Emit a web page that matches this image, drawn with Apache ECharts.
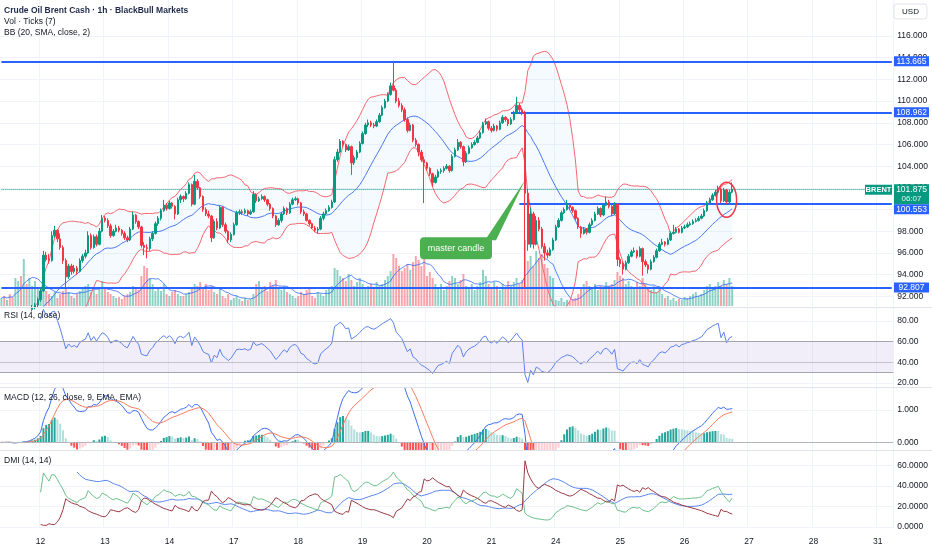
<!DOCTYPE html>
<html><head><meta charset="utf-8">
<script src="https://cdn.jsdelivr.net/npm/echarts@6/dist/echarts.min.js"></script>
<style>html,body{margin:0;padding:0;background:#fff}#c{width:932px;height:550px}</style>
</head><body><div id="c"></div>
<script>
// ---------- data ----------
const dayLabels = ['12','13','14','17','18','19','20','21','24','25','26','27','28','31'];
const firstDayIndex = 14, barsPerDay = 23, slotCount = 319;
// hourly candles: [open, high, low, close]
const candles = [
[90.3,90.6,90.1,90.4],[90.4,90.5,90.1,90.3],[90.3,90.7,90.2,90.5],[90.5,90.6,90.2,90.4],[90.4,90.5,90.0,90.2],
[90.2,90.5,90.1,90.3],[90.3,90.7,90.2,90.5],[90.5,90.6,90.2,90.4],[90.4,90.8,90.3,90.6],[90.6,90.7,90.3,90.5],
[90.5,91.0,90.4,90.8],[90.8,91.2,90.6,91.0],[91.0,91.4,90.8,91.2],[91.2,91.9,91.0,91.7],[91.7,92.8,91.5,92.5],
[92.5,96.2,92.4,95.8],[95.8,96.1,95.2,95.4],[95.4,95.9,95.0,95.3],[95.3,98.0,95.2,97.6],[97.6,98.5,97.4,98.1],
[98.1,98.2,97.0,97.3],[97.3,97.8,96.3,96.5],[96.5,96.7,95.0,95.3],[95.3,95.5,92.8,93.8],[93.8,95.0,93.6,94.8],
[94.8,95.0,94.0,94.3],[94.3,94.9,94.1,94.6],[94.6,94.8,94.0,94.3],[94.3,95.5,94.2,95.3],[95.3,95.9,95.1,95.7],
[95.7,96.3,95.5,96.0],[96.0,98.0,95.9,97.6],[97.6,97.8,96.3,96.5],[96.5,97.7,96.4,97.5],[97.5,97.7,96.6,96.8],
[96.8,98.3,96.7,98.0],[98.0,99.5,97.9,99.2],[99.2,99.4,98.8,99.0],[99.0,99.2,98.3,98.5],[98.5,98.7,97.4,97.6],
[97.6,98.2,97.5,98.0],[98.0,98.6,97.9,98.3],[98.3,98.5,97.9,98.1],[98.1,98.2,97.6,97.8],[97.8,98.0,97.2,97.4],
[97.4,97.6,97.0,97.2],[97.2,98.4,97.1,98.2],[98.2,99.8,98.1,99.5],[99.5,99.6,98.7,98.9],[98.9,99.0,98.2,98.4],
[98.4,98.5,96.5,96.7],[96.7,97.0,95.8,96.5],[96.5,96.8,95.5,96.4],[96.4,97.5,96.2,97.3],[97.3,98.0,97.1,97.8],
[97.8,98.9,97.7,98.7],[98.7,99.4,98.5,99.2],[99.2,100.1,99.0,99.9],[99.9,100.9,99.8,100.4],[100.4,100.6,99.9,100.1],
[100.1,100.8,100.0,100.6],[100.6,100.7,100.1,100.3],[100.3,100.4,99.1,99.6],[99.6,101.1,99.5,100.9],[100.9,101.4,100.6,101.2],
[101.2,101.3,100.7,101.0],[101.0,101.7,100.9,101.5],[101.5,102.5,101.4,102.3],[102.3,102.4,100.3,100.5],[100.5,103.2,100.4,102.6],
[102.6,102.8,101.8,102.0],[102.0,102.1,101.0,101.2],[101.2,101.3,99.8,100.0],[100.0,100.2,99.4,99.6],[99.6,99.9,99.2,99.4],
[99.4,99.5,97.0,97.4],[97.4,99.1,97.3,98.9],[98.9,99.2,98.1,98.3],[98.3,100.4,98.2,100.2],[100.2,100.3,98.4,98.6],
[98.6,98.8,97.8,98.0],[98.0,98.1,96.9,97.2],[97.2,97.9,97.0,97.7],[97.7,98.8,97.6,98.6],[98.6,99.9,98.5,99.7],
[99.7,100.0,99.5,99.8],[99.8,100.0,99.5,99.7],[99.7,100.1,99.6,99.9],[99.9,100.0,99.4,99.6],[99.6,100.0,99.5,99.8],
[99.8,101.7,99.7,101.4],[101.4,101.5,100.6,100.8],[100.8,101.2,100.7,101.0],[101.0,101.4,100.9,101.2],[101.2,101.3,100.7,100.9],
[100.9,101.0,100.3,100.5],[100.5,100.6,99.9,100.1],[100.1,100.2,99.2,99.4],[99.4,99.5,98.4,98.6],[98.6,99.2,98.5,99.0],
[99.0,99.8,98.8,99.6],[99.6,100.3,99.5,100.1],[100.1,100.2,99.5,99.7],[99.7,100.7,99.6,100.5],[100.5,101.1,100.4,100.9],
[100.9,101.2,100.8,101.0],[101.0,101.1,100.4,100.6],[100.6,100.7,99.6,99.8],[99.8,100.0,99.4,99.6],[99.6,99.7,98.9,99.0],
[99.0,99.1,98.5,98.7],[98.7,98.8,98.2,98.3],[98.3,98.5,97.9,98.1],[98.1,98.4,97.8,98.2],[98.2,99.4,98.1,99.2],
[99.2,99.8,99.0,99.6],[99.6,100.1,99.5,99.9],[99.9,100.4,99.8,100.2],[100.2,100.9,100.1,100.7],[100.7,104.9,100.6,104.6],
[104.6,105.6,104.4,105.3],[105.3,106.5,105.2,106.3],[106.3,106.4,105.8,106.0],[106.0,106.1,105.3,105.5],[105.5,106.0,105.4,105.8],
[105.8,105.9,103.2,104.3],[104.3,105.0,104.1,104.8],[104.8,105.5,104.6,105.3],[105.3,106.3,105.2,106.1],[106.1,107.2,106.0,107.0],
[107.0,108.0,106.9,107.8],[107.8,108.3,107.6,108.0],[108.0,108.2,107.6,107.8],[107.8,108.0,107.5,107.7],[107.7,108.3,107.6,108.1],
[108.1,108.9,108.0,108.7],[108.7,109.6,108.6,109.4],[109.4,110.2,109.3,110.0],[110.0,110.8,109.9,110.6],[110.6,111.7,110.5,111.4],
[111.4,113.7,110.9,111.0],[111.0,111.2,109.8,110.0],[110.0,110.3,109.4,109.6],[109.6,109.8,109.0,109.2],[109.2,109.4,108.1,108.3],
[108.3,108.5,107.1,107.3],[107.3,108.0,107.2,107.8],[107.8,107.9,106.2,106.4],[106.4,106.6,105.8,106.0],[106.0,106.1,104.9,105.3],
[105.3,105.5,104.4,104.6],[104.6,104.9,100.6,104.3],[104.3,104.4,103.6,103.8],[103.8,103.9,103.1,103.3],[103.3,103.4,102.1,102.5],
[102.5,103.2,102.4,103.0],[103.0,103.7,102.9,103.5],[103.5,103.8,103.3,103.6],[103.6,104.0,103.4,103.8],[103.8,104.2,103.7,104.0],
[104.0,104.1,103.4,103.6],[103.6,105.1,103.5,104.9],[104.9,105.7,104.8,105.5],[105.5,106.5,105.4,106.2],[106.2,106.3,105.6,105.8],
[105.8,105.9,104.0,104.4],[104.4,105.4,104.3,105.2],[105.2,105.9,105.1,105.7],[105.7,106.2,105.6,106.0],[106.0,106.4,105.9,106.2],
[106.2,106.8,106.1,106.6],[106.6,107.3,106.5,107.1],[107.1,108.1,107.0,107.9],[107.9,108.4,107.8,108.1],[108.1,108.2,107.3,107.5],
[107.5,107.7,107.1,107.3],[107.3,107.9,107.2,107.7],[107.7,107.8,107.2,107.4],[107.4,108.2,107.3,108.0],[108.0,108.7,107.9,108.5],
[108.5,108.6,108.1,108.3],[108.3,108.4,107.7,107.9],[107.9,108.5,107.8,108.3],[108.3,109.1,108.2,108.9],[108.9,110.4,108.8,109.6],
[109.6,109.8,109.0,109.2],[109.2,109.4,108.7,108.9],[108.9,109.1,92.8,101.5],[101.5,101.9,96.2,96.8],[96.8,100.2,96.5,99.6],
[99.6,99.8,96.4,96.8],[96.8,99.4,96.7,99.0],[99.0,99.3,98.0,98.2],[98.2,98.4,96.4,96.6],[96.6,96.9,95.3,96.0],
[96.0,96.3,95.5,95.8],[95.8,96.5,95.7,96.3],[96.3,97.4,96.2,97.2],[97.2,98.6,97.1,98.4],[98.4,99.2,98.3,99.0],
[99.0,99.9,98.9,99.7],[99.7,100.2,99.6,100.0],[100.0,100.9,99.9,100.4],[100.4,100.6,100.0,100.2],[100.2,100.3,99.7,99.9],
[99.9,100.0,99.0,99.2],[99.2,99.3,98.2,98.4],[98.4,98.5,97.4,97.8],[97.8,98.4,97.7,98.2],[98.2,98.3,97.7,97.9],
[97.9,98.8,97.8,98.6],[98.6,99.2,98.5,99.0],[99.0,99.8,98.9,99.6],[99.6,100.3,99.5,100.1],[100.1,100.2,99.3,99.5],
[99.5,100.6,99.4,100.4],[100.4,101.2,100.3,100.7],[100.7,100.9,100.1,100.3],[100.3,100.4,99.4,99.6],[99.6,100.7,99.5,100.5],
[100.5,100.6,94.8,95.4],[95.4,95.6,94.7,95.0],[95.0,95.2,94.0,94.5],[94.5,95.3,94.4,95.1],[95.1,95.9,95.0,95.7],
[95.7,96.3,95.6,96.1],[96.1,96.5,96.0,96.2],[96.2,96.3,95.5,95.7],[95.7,96.6,95.6,96.4],[96.4,96.5,93.9,95.2],
[95.2,95.4,94.7,94.9],[94.9,95.0,94.1,94.5],[94.5,95.4,94.4,95.2],[95.2,95.8,95.1,95.6],[95.6,96.4,95.5,96.2],
[96.2,97.0,96.1,96.8],[96.8,97.3,96.7,97.0],[97.0,97.1,96.6,96.8],[96.8,97.4,96.7,97.2],[97.2,98.0,97.1,97.8],
[97.8,98.6,97.7,97.9],[97.9,98.4,97.8,98.2],[98.2,98.3,97.8,97.9],[97.9,98.5,97.8,98.3],[98.3,98.6,98.2,98.4],
[98.4,98.8,98.3,98.6],[98.6,98.9,98.5,98.7],[98.7,99.1,98.6,98.9],[98.9,99.2,98.8,99.0],[99.0,99.4,98.9,99.2],
[99.2,99.6,99.1,99.4],[99.4,100.1,99.3,99.9],[99.9,100.8,99.8,100.6],[100.6,101.1,100.5,100.9],[100.9,101.5,100.8,101.3],
[101.3,101.8,101.2,101.6],[101.6,102.2,101.5,101.9],[101.9,102.0,100.6,100.8],[100.8,102.0,100.7,101.8],[101.8,101.9,100.5,100.7],
[100.7,101.8,100.6,101.6],[101.6,102.5,101.5,101.875]
];
const volumes = [
8,10,6,12,9, 28,25,30,47,22, 28,20,25,18,12,
22,15,12,10,14,8,12,15,18,14,
10,8,12,15,18,20,22,14,16,12,18,
25,18,14,12,10,8,9,7,10,12,
14,20,18,16,30,40,38,28,22,15,
18,15,22,12,10,14,16,12,10,
10,12,14,18,22,20,24,18,22,16,20,
14,12,18,10,8,12,6,8,10,7,5,8,6,7,12,
22,25,18,20,15,24,20,26,18,16,20,14,12,10,8,
10,14,12,16,18,10,8,14,12,10,16,18,20,
38,36,30,28,25,32,26,20,24,28,22,18,
20,22,18,24,20,22,26,30,35,52,
48,40,35,38,42,36,44,50,46,40,48,30,34,28,22,
18,22,16,20,25,30,28,22,26,32,20,18,22,16,20,
24,36,30,22,18,24,20,16,22,18,25,20,24,28,22,26,
66,
45,50,40,55,48,52,42,38,30,28,
6,5,8,4,6,5,7,8,12,18,22,25,20,18,22,16,20,18,
24,20,22,26,34,30,28,
22,25,20,18,24,20,28,22,18,16,20,14,18,
12,8,10,6,8,5,7,6,9,8,10,12,14,10,12,
16,20,22,18,20,24,20,26,22,28,20
];
const levelValues = [113.665, 108.962, 100.553, 92.807];
const levelStartIndex = [0, 182, 185, 0];
const lastPrice = 101.875;
const lastPriceTimer = '06:07';
const symbolName = 'BRENT';
const priceTicks = [92,94,96,98,100,102,104,106,108,110,112,114,116];
const rsiTicks = [20,40,60,80];
const macdTicks = [0,1];
const dmiTicks = [0,20,40,60];
const annotation = {index:187, price:102.7, text:'master candle'};
const circleMark = {index:259, price:100.9};

// ---------- indicators ----------
const N = candles.length;
const closes = candles.map(c=>c[3]);
const highs = candles.map(c=>c[1]);
const lows = candles.map(c=>c[2]);
const labelAt = [];
for (let i=0;i<slotCount;i++){
  const k=(i-firstDayIndex)/barsPerDay;
  labelAt.push(i>=firstDayIndex && Number.isInteger(k) && k<dayLabels.length ? dayLabels[k] : '');
}
const cats = labelAt.map((_,i)=>String(i));
const isDay = (idx)=>labelAt[idx]!=='';

const bbMid=[],bbUp=[],bbLo=[],bbWidth=[];
for(let i=0;i<N;i++){
  const w=closes.slice(Math.max(0,i-19),i+1);
  const m=w.reduce((a,b)=>a+b,0)/w.length;
  const sd=Math.sqrt(w.reduce((a,b)=>a+(b-m)*(b-m),0)/w.length);
  bbMid.push(m);bbUp.push(m+2*sd);bbLo.push(m-2*sd);bbWidth.push(4*sd);
}
function rma(arr,p){const out=new Array(arr.length).fill(null);let s=0,c=0,prev=null;
  for(let i=0;i<arr.length;i++){const x=arr[i];if(x==null)continue;
    if(prev===null){s+=x;c++;if(c===p){prev=s/p;out[i]=prev;}}
    else{prev=(prev*(p-1)+x)/p;out[i]=prev;}}
  return out;}
function ema(arr,p){const k=2/(p+1);const out=[];let e=arr[0];
  for(let i=0;i<arr.length;i++){e=i===0?arr[0]:arr[i]*k+e*(1-k);out.push(e);}return out;}
const gains=[null],losses=[null];
for(let i=1;i<N;i++){const d=closes[i]-closes[i-1];gains.push(Math.max(d,0));losses.push(Math.max(-d,0));}
const ag=rma(gains,14),al=rma(losses,14);
const rsi=ag.map((g,i)=>g==null?null:(al[i]===0?100:100-100/(1+g/al[i])));
const e12=ema(closes,12),e26=ema(closes,26);
const macd=e12.map((v,i)=>v-e26[i]);
const signal=ema(macd,9);
const hist=macd.map((v,i)=>v-signal[i]);
const trA=[null],pdmA=[null],mdmA=[null];
for(let i=1;i<N;i++){
  const up=highs[i]-highs[i-1],dn=lows[i-1]-lows[i];
  pdmA.push(up>dn&&up>0?up:0);mdmA.push(dn>up&&dn>0?dn:0);
  trA.push(Math.max(highs[i]-lows[i],Math.abs(highs[i]-closes[i-1]),Math.abs(lows[i]-closes[i-1])));
}
const rTR=rma(trA,14),rP=rma(pdmA,14),rM=rma(mdmA,14);
const pdi=rTR.map((t,i)=>t==null?null:100*rP[i]/t);
const mdi=rTR.map((t,i)=>t==null?null:100*rM[i]/t);
const dx=pdi.map((p,i)=>p==null?null:(p+mdi[i]===0?0:100*Math.abs(p-mdi[i])/(p+mdi[i])));
const adx=rma(dx,14);
const volMA=volumes.map((v,i)=>{const w=volumes.slice(Math.max(0,i-6),i+1);return w.reduce((a,b)=>a+b,0)/w.length;});

// ---------- chart ----------
const UP='#089981',DN='#F23645';
const RIGHT=932-893.2;
const FONT='Liberation Sans, Arial, sans-serif';
const chart=echarts.init(document.getElementById('c'),null,{renderer:'canvas'});
const grids=[
  {left:0,right:RIGHT,top:0,height:306},
  {left:0,right:RIGHT,top:200,height:106},
  {left:0,right:RIGHT,top:308,height:79},
  {left:0,right:RIGHT,top:388,height:62},
  {left:0,right:RIGHT,top:451,height:77}
];
const xAxes=grids.map((g,gi)=>({
  type:'category',gridIndex:gi,data:cats,boundaryGap:true,
  axisLine:{show:false},axisTick:{show:false},
  axisLabel:{show:gi===4,interval:(idx)=>isDay(idx),formatter:(v,idx)=>labelAt[idx],color:'#131722',fontSize:8.5,margin:9,fontFamily:FONT},
  splitLine:{show:gi!==1,interval:(idx)=>isDay(idx),lineStyle:{color:'#F0F3FA',width:1}}
}));
function yAx(gi,min,max,ticks,dec){
  return {type:'value',gridIndex:gi,position:'right',min:min,max:max,
    axisLine:{show:false},axisTick:{show:false,customValues:ticks},
    axisLabel:{customValues:ticks,formatter:v=>Number(v).toFixed(dec),color:'#131722',fontSize:8.5,margin:4,fontFamily:FONT},
    splitLine:{show:true,lineStyle:{color:'#F0F3FA',width:1}}};
}
const yAxes=[
  yAx(0,91.11,119.32,priceTicks,3),
  {type:'value',gridIndex:1,min:0,max:106,show:false},
  yAx(2,16.13,92.58,rsiTicks,2),
  yAx(3,-0.238,1.681,macdTicks,3),
  yAx(4,-0.97,73.9,dmiTicks,4)
];
const candleData=candles.map(c=>[c[0],c[3],c[2],c[1]]);
const volData=volumes.map((v,i)=>({value:v,itemStyle:{color:candles[i][3]>=candles[i][0]?'rgba(8,153,129,0.45)':'rgba(242,54,69,0.45)'}}));
const histData=hist.map((h,i)=>{const p=i>0?hist[i-1]:h;let col;
  if(h>=0) col=h>p?'#26A69A':'#B2DFDB'; else col=h<p?'#FF5252':'#FFCDD2';
  return {value:h,itemStyle:{color:col}};});
const levelMarks=levelValues.map((v,k)=>[{coord:[levelStartIndex[k],v]},{coord:[slotCount-1,v]}]);
const line=(name,data,xi,yi,color,width,extra)=>Object.assign({type:'line',name,data,xAxisIndex:xi,yAxisIndex:yi,showSymbol:false,symbol:'none',
  lineStyle:{color,width:width},itemStyle:{color},silent:true,connectNulls:false,z:3},extra||{});

const series=[
  {type:'bar',name:'vol',data:volData,xAxisIndex:1,yAxisIndex:1,barWidth:2,silent:true,z:1},
  line('volMA',volMA,1,1,'rgba(41,98,255,0.75)',1,{z:2}),
  line('bbBase',bbLo,0,0,'rgba(0,0,0,0)',0,{stack:'bb',lineStyle:{opacity:0,width:0},z:1}),
  line('bbFill',bbWidth,0,0,'rgba(0,0,0,0)',0,{stack:'bb',lineStyle:{opacity:0,width:0},areaStyle:{color:'rgba(33,150,243,0.06)'},z:1}),
  line('bbUp',bbUp,0,0,'#F5676F',1),
  line('bbLo',bbLo,0,0,'#F5676F',1),
  line('bbMid',bbMid,0,0,'#4C78F0',1),
  {type:'candlestick',name:'BRENT',data:candleData,xAxisIndex:0,yAxisIndex:0,barWidth:2,silent:true,z:5,
    itemStyle:{color:UP,color0:DN,borderColor:UP,borderColor0:DN,borderWidth:1},
    markLine:{silent:true,symbol:['none','none'],label:{show:false},
      lineStyle:{color:'#2962FF',width:2,type:'solid'},
      data:levelMarks.concat([[{coord:[0,lastPrice],lineStyle:{color:UP,width:1,type:'dotted'}},{coord:[slotCount-1,lastPrice]}]])}},
  line('rsi',rsi,2,2,'#5A82F0',1,{
    markArea:{silent:true,itemStyle:{color:'rgba(126,87,194,0.10)'},data:[[{yAxis:30},{yAxis:60}]]},
    markLine:{silent:true,symbol:['none','none'],label:{show:false},lineStyle:{color:'#A3A6AF',width:1,type:'solid'},
      data:[{yAxis:60},{yAxis:40,lineStyle:{color:'#C3C5CC'}},{yAxis:30}]}}),
  {type:'bar',name:'hist',data:histData,xAxisIndex:3,yAxisIndex:3,barWidth:2,silent:true,z:2,
    markLine:{silent:true,symbol:['none','none'],label:{show:false},lineStyle:{color:'#B2B5BE',width:1,type:'solid'},data:[{yAxis:0}]}},
  line('macd',macd,3,3,'#3E6EF2',1),
  line('signal',signal,3,3,'#F77C5A',1),
  line('adx',adx,4,4,'#5B86F0',1),
  line('pdi',pdi,4,4,'#6CC08B',1),
  line('mdi',mdi,4,4,'#9B3B44',1)
];
chart.setOption({animation:false,backgroundColor:'#ffffff',textStyle:{fontFamily:FONT},
  grid:grids,xAxis:xAxes,yAxis:yAxes,series:series});

// ---------- overlays (text, tags, annotations) ----------
const P=(i,v)=>chart.convertToPixel({xAxisIndex:0,yAxisIndex:0},[i,v]);
const txt=(x,y,t,o,z)=>({type:'text',x,y,silent:true,z:z||50,style:Object.assign({text:t,fill:'#131722',font:'8px '+FONT,textVerticalAlign:'middle'},o||{})});
const els=[];
[307.5,387.5,450.5].forEach(y=>els.push({type:'line',silent:true,z:40,shape:{x1:0,y1:y,x2:932,y2:y},style:{stroke:'#E0E3EB',lineWidth:1}}));
els.push(txt(4,11,'Crude Oil Brent Cash · 1h · BlackBull Markets',{font:'bold 8.5px '+FONT,fill:'#1E2A4A'}));
els.push(txt(4,22,'Vol · Ticks (7)',{font:'8.5px '+FONT}));
els.push(txt(4,33,'BB (20, SMA, close, 2)',{font:'8.5px '+FONT}));
els.push(txt(4,316,'RSI (14, close)',{font:'8.5px '+FONT}));
els.push(txt(4,398,'MACD (12, 26, close, 9, EMA, EMA)',{font:'8.5px '+FONT}));
els.push(txt(4,461,'DMI (14, 14)',{font:'8.5px '+FONT}));
els.push({type:'rect',silent:true,z:50,shape:{x:894,y:4,width:33,height:15,r:3},style:{fill:'#fff',stroke:'#E0E3EB',lineWidth:1}});
els.push(txt(910.5,11.5,'USD',{font:'8px '+FONT,textAlign:'center'},51));
// last price tags
const lp=P(0,lastPrice);
const greenBottom=lp[1]+15;
els.push({type:'rect',silent:true,z:51,shape:{x:865,y:lp[1]-4.5,width:27,height:10},style:{fill:UP}});
els.push(txt(878.5,lp[1]+0.5,symbolName,{font:'bold 7.5px '+FONT,fill:'#fff',textAlign:'center'},52));
els.push({type:'rect',silent:true,z:51,shape:{x:894,y:lp[1]-5,width:35,height:20},style:{fill:UP}});
els.push(txt(911.5,lp[1]+0.8,lastPrice.toFixed(3),{font:'8.5px '+FONT,fill:'#fff',textAlign:'center'},52));
els.push(txt(911.5,lp[1]+9.5,lastPriceTimer,{font:'8px '+FONT,fill:'#E6F4F1',textAlign:'center'},52));
// level tags (shifted down when they would overlap the last-price tag)
levelValues.forEach(v=>{const p=P(0,v);
  let top=p[1]-5;
  if(top<greenBottom && top+10>lp[1]-5) top=greenBottom;
  els.push({type:'rect',silent:true,z:53,shape:{x:894,y:top,width:35,height:10},style:{fill:'#2962FF'}});
  els.push(txt(911.5,top+5.2,v.toFixed(3),{font:'8.5px '+FONT,fill:'#fff',textAlign:'center'},54));
});
// master candle annotation
const tip=P(annotation.index,annotation.price);
els.push({type:'polygon',silent:true,z:45,shape:{points:[[tip[0]-40,tip[1]+60],[tip[0]-29,tip[1]+60],[tip[0],tip[1]]]},style:{fill:'#4CAF50'}});
els.push({type:'rect',silent:true,z:46,shape:{x:tip[0]-105,y:tip[1]+57,width:72,height:22,r:4},style:{fill:'#4CAF50'}});
els.push(txt(tip[0]-69,tip[1]+68,annotation.text,{font:'9px '+FONT,fill:'#fff',textAlign:'center'},47));
// circle highlight
const cm=P(circleMark.index,circleMark.price);
els.push({type:'ellipse',silent:true,z:45,shape:{cx:cm[0],cy:cm[1],rx:10,ry:17.5},style:{fill:'none',stroke:'#F23645',lineWidth:1.5}});
chart.setOption({graphic:{elements:els}});
</script></body></html>
